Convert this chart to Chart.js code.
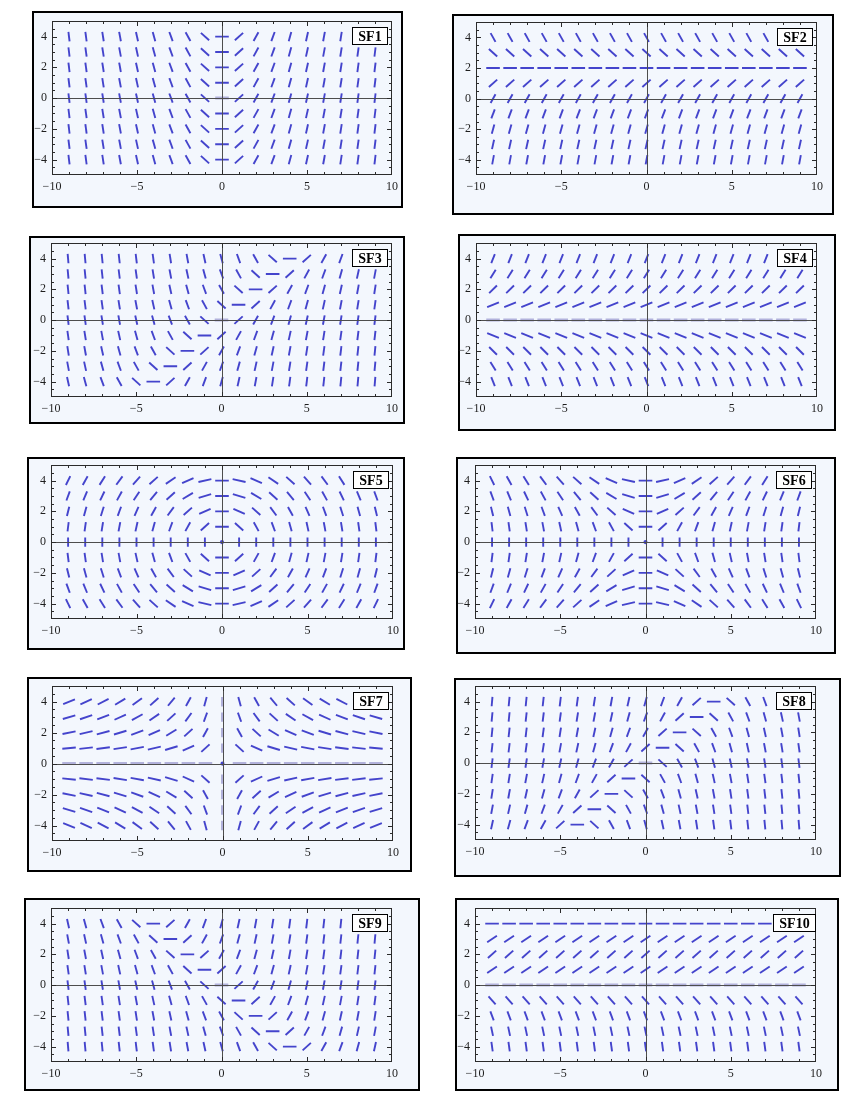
<!DOCTYPE html>
<html><head><meta charset="utf-8">
<script src="https://cdn.jsdelivr.net/npm/chart.js@4.4.1/dist/chart.umd.min.js"></script>
<style>
html,body{margin:0;padding:0;background:#fff;}
body{width:850px;height:1100px;position:relative;overflow:hidden;}
.panel{position:absolute;box-sizing:border-box;border:2px solid #000;background:#f3f7fd;}
canvas{position:absolute;}
</style></head><body>
<script>
// ---------- data ----------
const xCats = [-9,-8,-7,-6,-5,-4,-3,-2,-1,0,1,2,3,4,5,6,7,8,9];
const yCats = [4,3,2,1,0,-1,-2,-3,-4];
const xTickValues = [-10,-5,0,5,10];
const xTickLabels = ['\u221210','\u22125','0','5','10'];
const yTickValues = [-4,-2,0,2,4];
const yTickLabels = ['\u22124','\u22122','0','2','4'];
const panelLabels = ['SF1','SF2','SF3','SF4','SF5','SF6','SF7','SF8','SF9','SF10'];
const V = Infinity; // vertical segment
const O = null;     // undefined slope (dot)

// slope depends only on x (one value per column)
const sf1ColumnSlopes = [-9,-8,-7,-6,-5,-4,-3,-2,-1,0,1,2,3,4,5,6,7,8,9];
// slope depends only on y (one value per row, y = 4 .. -4)
const sf2RowSlopes = [-2,-1,0,1,2,3,4,5,6];
const sf4RowSlopes = [2.8,1.8,1.1,0.45,0,-0.45,-1.1,-1.8,-2.8];
const sf10RowSlopes = [0,0.75,1,0.75,0,-1.25,-3,-5.25,-8];

// full grids (rows y = 4 .. -4, columns x = -9 .. 9)
const sf3Slopes = [
[-13,-12,-11,-10,-9,-8,-7,-6,-5,-4,-3,-2,-1,0,1,2,3,4,5],
[-12,-11,-10,-9,-8,-7,-6,-5,-4,-3,-2,-1,0,1,2,3,4,5,6],
[-11,-10,-9,-8,-7,-6,-5,-4,-3,-2,-1,0,1,2,3,4,5,6,7],
[-10,-9,-8,-7,-6,-5,-4,-3,-2,-1,0,1,2,3,4,5,6,7,8],
[-9,-8,-7,-6,-5,-4,-3,-2,-1,0,1,2,3,4,5,6,7,8,9],
[-8,-7,-6,-5,-4,-3,-2,-1,0,1,2,3,4,5,6,7,8,9,10],
[-7,-6,-5,-4,-3,-2,-1,0,1,2,3,4,5,6,7,8,9,10,11],
[-6,-5,-4,-3,-2,-1,0,1,2,3,4,5,6,7,8,9,10,11,12],
[-5,-4,-3,-2,-1,0,1,2,3,4,5,6,7,8,9,10,11,12,13]
];
const sf5Slopes = [
[2.25,2,1.75,1.5,1.25,1,0.75,0.5,0.25,0,-0.25,-0.5,-0.75,-1,-1.25,-1.5,-1.75,-2,-2.25],
[3,2.67,2.33,2,1.67,1.33,1,0.67,0.33,0,-0.33,-0.67,-1,-1.33,-1.67,-2,-2.33,-2.67,-3],
[4.5,4,3.5,3,2.5,2,1.5,1,0.5,0,-0.5,-1,-1.5,-2,-2.5,-3,-3.5,-4,-4.5],
[9,8,7,6,5,4,3,2,1,0,-1,-2,-3,-4,-5,-6,-7,-8,-9],
[V,V,V,V,V,V,V,V,V,O,V,V,V,V,V,V,V,V,V],
[-9,-8,-7,-6,-5,-4,-3,-2,-1,0,1,2,3,4,5,6,7,8,9],
[-4.5,-4,-3.5,-3,-2.5,-2,-1.5,-1,-0.5,0,0.5,1,1.5,2,2.5,3,3.5,4,4.5],
[-3,-2.67,-2.33,-2,-1.67,-1.33,-1,-0.67,-0.33,0,0.33,0.67,1,1.33,1.67,2,2.33,2.67,3],
[-2.25,-2,-1.75,-1.5,-1.25,-1,-0.75,-0.5,-0.25,0,0.25,0.5,0.75,1,1.25,1.5,1.75,2,2.25]
];
const sf6Slopes = [
[-2.25,-2,-1.75,-1.5,-1.25,-1,-0.75,-0.5,-0.25,0,0.25,0.5,0.75,1,1.25,1.5,1.75,2,2.25],
[-3,-2.67,-2.33,-2,-1.67,-1.33,-1,-0.67,-0.33,0,0.33,0.67,1,1.33,1.67,2,2.33,2.67,3],
[-4.5,-4,-3.5,-3,-2.5,-2,-1.5,-1,-0.5,0,0.5,1,1.5,2,2.5,3,3.5,4,4.5],
[-9,-8,-7,-6,-5,-4,-3,-2,-1,0,1,2,3,4,5,6,7,8,9],
[V,V,V,V,V,V,V,V,V,O,V,V,V,V,V,V,V,V,V],
[9,8,7,6,5,4,3,2,1,0,-1,-2,-3,-4,-5,-6,-7,-8,-9],
[4.5,4,3.5,3,2.5,2,1.5,1,0.5,0,-0.5,-1,-1.5,-2,-2.5,-3,-3.5,-4,-4.5],
[3,2.67,2.33,2,1.67,1.33,1,0.67,0.33,0,-0.33,-0.67,-1,-1.33,-1.67,-2,-2.33,-2.67,-3],
[2.25,2,1.75,1.5,1.25,1,0.75,0.5,0.25,0,-0.25,-0.5,-0.75,-1,-1.25,-1.5,-1.75,-2,-2.25]
];
const sf7Slopes = [
[0.44,0.5,0.57,0.67,0.8,1,1.33,2,4,V,-4,-2,-1.33,-1,-0.8,-0.67,-0.57,-0.5,-0.44],
[0.33,0.38,0.43,0.5,0.6,0.75,1,1.5,3,V,-3,-1.5,-1,-0.75,-0.6,-0.5,-0.43,-0.38,-0.33],
[0.22,0.25,0.29,0.33,0.4,0.5,0.67,1,2,V,-2,-1,-0.67,-0.5,-0.4,-0.33,-0.29,-0.25,-0.22],
[0.11,0.13,0.14,0.17,0.2,0.25,0.33,0.5,1,V,-1,-0.5,-0.33,-0.25,-0.2,-0.17,-0.14,-0.13,-0.11],
[0,0,0,0,0,0,0,0,0,O,0,0,0,0,0,0,0,0,0],
[-0.11,-0.13,-0.14,-0.17,-0.2,-0.25,-0.33,-0.5,-1,V,1,0.5,0.33,0.25,0.2,0.17,0.14,0.13,0.11],
[-0.22,-0.25,-0.29,-0.33,-0.4,-0.5,-0.67,-1,-2,V,2,1,0.67,0.5,0.4,0.33,0.29,0.25,0.22],
[-0.33,-0.38,-0.43,-0.5,-0.6,-0.75,-1,-1.5,-3,V,3,1.5,1,0.75,0.6,0.5,0.43,0.38,0.33],
[-0.44,-0.5,-0.57,-0.67,-0.8,-1,-1.33,-2,-4,V,4,2,1.33,1,0.8,0.67,0.57,0.5,0.44]
];
const sf8Slopes = [
[13,12,11,10,9,8,7,6,5,4,3,2,1,0,-1,-2,-3,-4,-5],
[12,11,10,9,8,7,6,5,4,3,2,1,0,-1,-2,-3,-4,-5,-6],
[11,10,9,8,7,6,5,4,3,2,1,0,-1,-2,-3,-4,-5,-6,-7],
[10,9,8,7,6,5,4,3,2,1,0,-1,-2,-3,-4,-5,-6,-7,-8],
[9,8,7,6,5,4,3,2,1,0,-1,-2,-3,-4,-5,-6,-7,-8,-9],
[8,7,6,5,4,3,2,1,0,-1,-2,-3,-4,-5,-6,-7,-8,-9,-10],
[7,6,5,4,3,2,1,0,-1,-2,-3,-4,-5,-6,-7,-8,-9,-10,-11],
[6,5,4,3,2,1,0,-1,-2,-3,-4,-5,-6,-7,-8,-9,-10,-11,-12],
[5,4,3,2,1,0,-1,-2,-3,-4,-5,-6,-7,-8,-9,-10,-11,-12,-13]
];
const sf9Slopes = [
[-5,-4,-3,-2,-1,0,1,2,3,4,5,6,7,8,9,10,11,12,13],
[-6,-5,-4,-3,-2,-1,0,1,2,3,4,5,6,7,8,9,10,11,12],
[-7,-6,-5,-4,-3,-2,-1,0,1,2,3,4,5,6,7,8,9,10,11],
[-8,-7,-6,-5,-4,-3,-2,-1,0,1,2,3,4,5,6,7,8,9,10],
[-9,-8,-7,-6,-5,-4,-3,-2,-1,0,1,2,3,4,5,6,7,8,9],
[-10,-9,-8,-7,-6,-5,-4,-3,-2,-1,0,1,2,3,4,5,6,7,8],
[-11,-10,-9,-8,-7,-6,-5,-4,-3,-2,-1,0,1,2,3,4,5,6,7],
[-12,-11,-10,-9,-8,-7,-6,-5,-4,-3,-2,-1,0,1,2,3,4,5,6],
[-13,-12,-11,-10,-9,-8,-7,-6,-5,-4,-3,-2,-1,0,1,2,3,4,5]
];

// ---------- build point tables from the arrays ----------
function fromGrid(grid){ const p=[]; yCats.forEach((y,r)=>xCats.forEach((x,c)=>p.push({x:x,y:y,m:grid[r][c]}))); return p; }
function fromColumns(cols){ const p=[]; yCats.forEach((y)=>xCats.forEach((x,c)=>p.push({x:x,y:y,m:cols[c]}))); return p; }
function fromRows(rows){ const p=[]; yCats.forEach((y,r)=>xCats.forEach((x)=>p.push({x:x,y:y,m:rows[r]}))); return p; }

const panelData = [
  fromColumns(sf1ColumnSlopes), fromRows(sf2RowSlopes), fromGrid(sf3Slopes), fromRows(sf4RowSlopes),
  fromGrid(sf5Slopes), fromGrid(sf6Slopes), fromGrid(sf7Slopes), fromGrid(sf8Slopes),
  fromGrid(sf9Slopes), fromRows(sf10RowSlopes)
];

// ---------- layout (outer box, plot area) ----------
const layout = [
  {box:[32,11,403,208],  plot:[52,21,392,175]},
  {box:[452,14,834,215], plot:[476,22,817,175]},
  {box:[29,236,405,424], plot:[51,243,392,397]},
  {box:[458,234,836,431],plot:[476,243,817,397]},
  {box:[27,457,405,650], plot:[51,465,393,619]},
  {box:[456,457,836,654],plot:[475,465,816,619]},
  {box:[27,677,412,872], plot:[52,686,393,841]},
  {box:[454,678,841,877],plot:[475,686,816,840]},
  {box:[24,898,420,1091],plot:[51,908,392,1062]},
  {box:[455,898,839,1091],plot:[475,908,816,1062]}
];
const PADL=2, PADT=12, PADR=14, PADB=2, YW=26, XH=20;
const SEG='#4444cc', SEG_PALE='#b2b2dc';
const FONT="'Liberation Serif','Times New Roman',serif";

function segAngle(ctx){
  const raw = ctx.raw; if(!raw) return 0;
  const m = raw.m; if(m===null || m===undefined) return null;
  const c = ctx.chart, xs=c.scales.x, ys=c.scales.y;
  const kx=(xs.right-xs.left)/(xs.max-xs.min), ky=(ys.bottom-ys.top)/(ys.max-ys.min);
  if(!isFinite(m)) return Math.PI/2;
  return Math.atan(m*ky/kx);
}
function segRadius(ctx){
  const a = segAngle(ctx); if(a===null) return 1.1;
  const c=Math.cos(a), s=Math.sin(a);
  return 1/Math.sqrt((c/6.8)*(c/6.8)+(s/4.7)*(s/4.7));
}
function segRotation(ctx){ const a=segAngle(ctx); return a===null?0:-a*180/Math.PI; }
function segStyle(ctx){ return (ctx.raw && ctx.raw.m===null) ? 'circle' : 'line'; }
function onAxis(r){ return !!r && ((r.y===0 && r.m===0) || (r.x===0 && r.m!==null && !isFinite(r.m))); }
function segColor(ctx){ return onAxis(ctx.raw) ? SEG_PALE : SEG; }
function segWidth(ctx){ return onAxis(ctx.raw) ? 3 : 1.9; }

const framePlugin = {
  id:'frame',
  afterDatasetsDraw(chart){
    const {ctx, chartArea:a, scales:{x,y}} = chart;
    ctx.save();
    ctx.lineWidth=1;
    ctx.strokeStyle='#4d4d4d';
    const x0=Math.round(x.getPixelForValue(0))+0.5, y0=Math.round(y.getPixelForValue(0))+0.5;
    ctx.beginPath();
    ctx.moveTo(a.left,y0); ctx.lineTo(a.right,y0);
    ctx.moveTo(x0,a.top); ctx.lineTo(x0,a.bottom);
    ctx.stroke();
    ctx.strokeStyle='#2b2b2b';
    const L=Math.round(a.left)+0.5, T=Math.round(a.top)+0.5, R=Math.round(a.right)-0.5, B=Math.round(a.bottom)-0.5;
    ctx.strokeRect(L,T,R-L,B-T);
    ctx.beginPath();
    for(let v=-9; v<=9; v++){
      const px=Math.round(x.getPixelForValue(v))+0.5, len=(v%5===0)?4.5:2.5;
      ctx.moveTo(px,B); ctx.lineTo(px,B-len);
      ctx.moveTo(px,T); ctx.lineTo(px,T+len);
    }
    for(let k=-9; k<=9; k++){
      const py=Math.round(y.getPixelForValue(k/2))+0.5, len=(k%4===0)?4.5:2.5;
      ctx.moveTo(L,py); ctx.lineTo(L+len,py);
      ctx.moveTo(R,py); ctx.lineTo(R-len,py);
    }
    ctx.stroke();
    ctx.restore();
  },
  afterDraw(chart, args, opts){
    const {ctx, chartArea:a} = chart;
    ctx.save();
    ctx.font='bold 14px '+FONT;
    const w=ctx.measureText(opts.label).width;
    const bw=Math.round(w+12), bh=17;
    const cx=a.right-22.5, cy=a.top+14.5;
    const bx=Math.round(cx-bw/2)+0.5, by=Math.round(cy-bh/2)+0.5;
    ctx.fillStyle='#fff'; ctx.fillRect(bx,by,bw,bh);
    ctx.strokeStyle='#000'; ctx.lineWidth=1; ctx.strokeRect(bx,by,bw,bh);
    ctx.fillStyle='#000'; ctx.textAlign='center'; ctx.textBaseline='middle';
    ctx.fillText(opts.label, bx+bw/2, by+bh/2+1);
    ctx.restore();
  }
};

layout.forEach((L,i)=>{
  const d=document.createElement('div'); d.className='panel';
  d.style.left=L.box[0]+'px'; d.style.top=L.box[1]+'px';
  d.style.width=(L.box[2]-L.box[0])+'px'; d.style.height=(L.box[3]-L.box[1])+'px';
  document.body.appendChild(d);
  const cv=document.createElement('canvas');
  const cw=(L.plot[2]-L.plot[0])+PADL+YW+PADR, ch=(L.plot[3]-L.plot[1])+PADT+XH+PADB;
  cv.width=cw; cv.height=ch; cv.style.width=cw+'px'; cv.style.height=ch+'px';
  cv.style.left=(L.plot[0]-PADL-YW)+'px'; cv.style.top=(L.plot[1]-PADT)+'px';
  document.body.appendChild(cv);
  new Chart(cv,{
    type:'scatter',
    data:{datasets:[{
      data:panelData[i],
      pointStyle:segStyle, pointRadius:segRadius, pointHoverRadius:segRadius,
      pointRotation:segRotation, pointBorderColor:segColor, pointBackgroundColor:segColor,
      pointBorderWidth:segWidth, pointHoverBorderWidth:segWidth
    }]},
    options:{
      responsive:false, animation:false, events:[], devicePixelRatio:1,
      layout:{padding:{left:PADL,top:PADT,right:PADR,bottom:PADB}},
      plugins:{legend:{display:false}, tooltip:{enabled:false}, frame:{label:panelLabels[i]}},
      scales:{
        x:{type:'linear', min:-10, max:10,
          grid:{display:false, drawTicks:false}, border:{display:false},
          afterBuildTicks:(s)=>{ s.ticks = xTickValues.map(v=>({value:v})); },
          afterFit:(s)=>{ s.height=XH; },
          ticks:{padding:5, maxRotation:0, autoSkip:false, color:'#1e1e1e', font:{family:FONT,size:12},
            callback:(v)=>xTickLabels[xTickValues.indexOf(v)]}},
        y:{type:'linear', min:-5, max:5,
          grid:{display:false, drawTicks:false}, border:{display:false},
          afterBuildTicks:(s)=>{ s.ticks = yTickValues.map(v=>({value:v})); },
          afterFit:(s)=>{ s.width=YW; },
          ticks:{padding:5, autoSkip:false, color:'#1e1e1e', font:{family:FONT,size:12},
            callback:(v)=>yTickLabels[yTickValues.indexOf(v)]}}
      }
    },
    plugins:[framePlugin]
  });
});
</script>
</body></html>
